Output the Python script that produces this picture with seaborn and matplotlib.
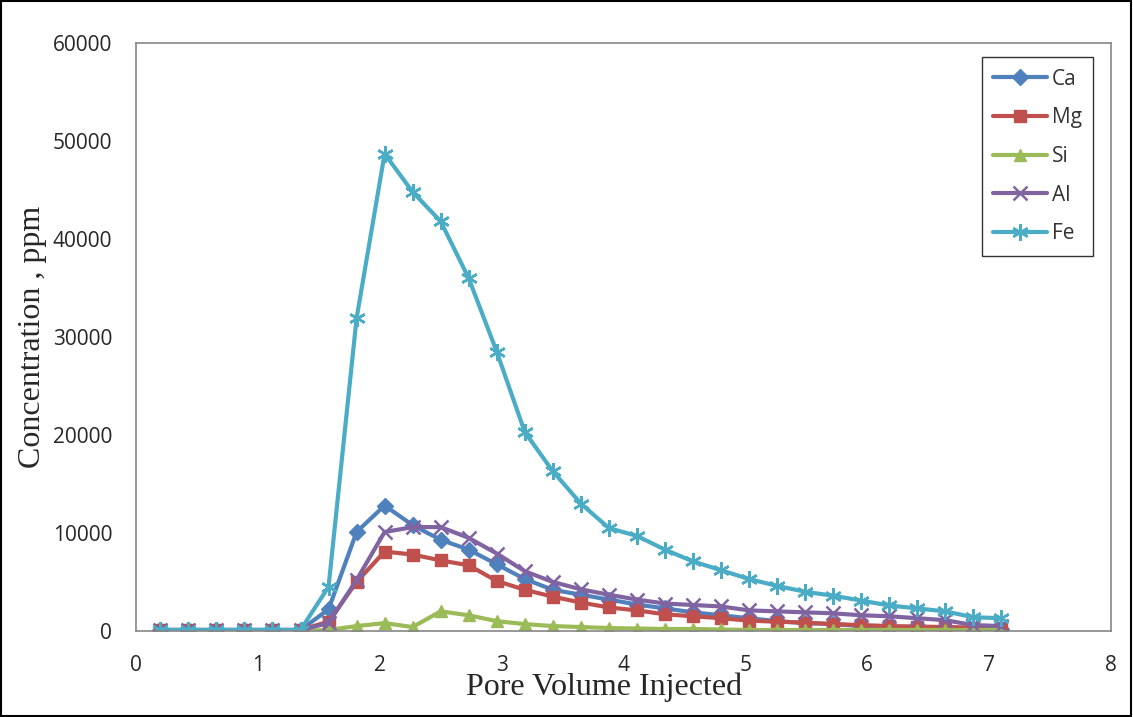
import matplotlib
matplotlib.use("Agg")
import matplotlib.pyplot as plt
import seaborn as sns
import numpy as np

# Pore volumes injected (sampling points)
pore_volume = [0.20, 0.43, 0.66, 0.89, 1.12, 1.35, 1.58, 1.81, 2.04, 2.27,
               2.50, 2.73, 2.96, 3.19, 3.42, 3.65, 3.88, 4.11, 4.34, 4.57,
               4.80, 5.03, 5.26, 5.49, 5.72, 5.95, 6.18, 6.41, 6.64, 6.87, 7.10]

ca = [100, 100, 100, 100, 100, 100, 2200, 10100, 12800, 10800,
      9300, 8300, 6800, 5300, 4200, 3700, 3200, 2700, 2300, 1900,
      1600, 1300, 1000, 800, 700, 500, 400, 300, 300, 200, 200]
mg = [100, 100, 100, 100, 100, 100, 950, 5000, 8100, 7800,
      7200, 6700, 5100, 4200, 3500, 2900, 2400, 2100, 1700, 1500,
      1300, 1050, 950, 850, 700, 600, 500, 450, 400, 350, 300]
si = [0, 0, 0, 0, 0, 0, 100, 500, 800, 400,
      2000, 1600, 1000, 700, 500, 400, 300, 250, 200, 200,
      150, 100, 100, 100, 100, 100, 100, 100, 100, 100, 100]
al = [100, 100, 100, 100, 100, 100, 800, 5200, 10100, 10600,
      10600, 9500, 7900, 6100, 5000, 4250, 3700, 3200, 2800, 2650,
      2500, 2100, 2000, 1900, 1800, 1600, 1500, 1300, 1100, 600, 500]
fe = [100, 100, 100, 100, 100, 100, 4500, 31900, 48700, 44800,
      41800, 36000, 28500, 20300, 16300, 13000, 10500, 9700, 8300, 7100,
      6200, 5300, 4600, 4000, 3600, 3100, 2600, 2300, 2000, 1400, 1300]

series_names = ["Ca", "Mg", "Si", "Al", "Fe"]
x_ticks = [0, 1, 2, 3, 4, 5, 6, 7, 8]
y_ticks = [0, 10000, 20000, 30000, 40000, 50000, 60000]

sns.set_style("white")
plt.rcParams["font.family"] = ["Open Sans", "DejaVu Sans"]

fig = plt.figure(figsize=(11.33, 7.17), dpi=100)
ax = fig.add_axes([0.120, 0.120, 0.8606, 0.820])

styles = [
    (ca, "#4F81BD", "D", 8, 1.0),
    (mg, "#C0504D", "s", 9, 1.0),
    (si, "#9BBB59", "^", 9, 1.0),
    (al, "#8064A2", "x", 10, 1.8),
    (fe, "#4BACC6", (6, 2, 0), 12, 1.8),
]
for name, (vals, color, marker, ms, mew) in zip(series_names, styles):
    sns.lineplot(x=pore_volume, y=vals, ax=ax, color=color, marker=marker,
                 markersize=ms, markeredgecolor=color, markerfacecolor=color,
                 markeredgewidth=mew, linewidth=3, label=name)

ax.set_xlim(0, 8)
ax.set_ylim(0, 60000)
ax.set_xticks(x_ticks)
ax.set_yticks(y_ticks)
ax.set_xticklabels([str(v) for v in x_ticks])
ax.set_yticklabels([str(v) for v in y_ticks])
ax.tick_params(axis="both", length=0, labelsize=15, colors="#262626")
ax.tick_params(axis="y", pad=17)
ax.tick_params(axis="x", pad=17)

for spine in ax.spines.values():
    spine.set_visible(True)
    spine.set_color("#868686")
    spine.set_linewidth(1.2)

ax.set_xlabel("Pore Volume Injected", family=["Liberation Serif"], fontsize=23)
ax.xaxis.label.set_va("baseline")
ax.xaxis.set_label_coords(0.4805, -0.1088)

ax.set_ylabel("Concentration , ppm", family=["Liberation Serif"], fontsize=23)
ax.yaxis.label.set_va("center")
ax.yaxis.set_label_coords(-0.1056, 0.5)

leg = ax.legend(loc="upper right", bbox_to_anchor=(0.9815, 0.976),
                borderaxespad=0, fontsize=15, frameon=True, fancybox=False,
                handlelength=2.6, labelspacing=0.85, borderpad=0.55,
                handletextpad=0.2)
leg.get_frame().set_edgecolor("black")
leg.get_frame().set_linewidth(1.0)
for txt in leg.get_texts():
    txt.set_color("#333333")

# thin black frame around the whole figure
fig.patches.append(plt.Rectangle((0.001, 0.002), 0.997, 0.996,
                                 transform=fig.transFigure, fill=False,
                                 edgecolor="black", linewidth=1.5))

fig.savefig("out.png", dpi=100)
